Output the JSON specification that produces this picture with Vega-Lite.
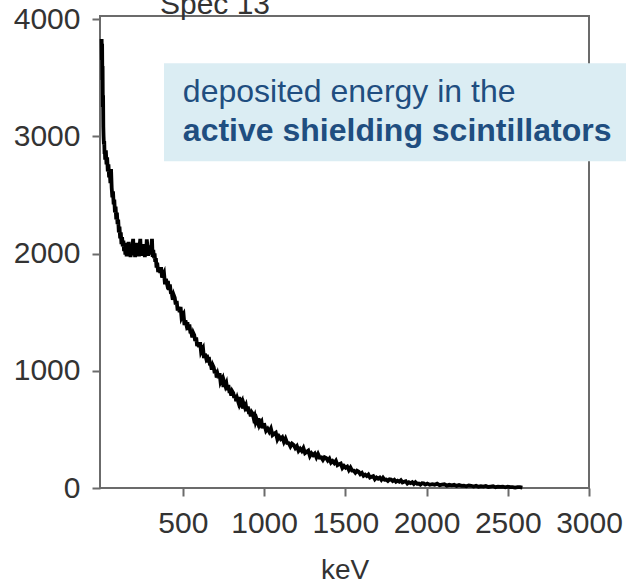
{
  "$schema": "https://vega.github.io/schema/vega-lite/v6.json",
  "width": 489,
  "height": 472,
  "autosize": {"type": "none"},
  "padding": {"left": 100, "top": 16, "right": 37, "bottom": 98},
  "background": "white",
  "config": {
    "font": "Liberation Sans",
    "view": {"stroke": "#6b6b6b", "strokeWidth": 2},
    "axis": {
      "domain": false,
      "grid": false,
      "ticks": true,
      "tickColor": "#6b6b6b",
      "tickWidth": 2,
      "tickSize": 8,
      "labelFont": "Liberation Sans",
      "labelFontSize": 30,
      "labelColor": "#333333",
      "labelFlush": false,
      "labelOverlap": false,
      "titleFont": "Liberation Sans",
      "titleFontSize": 28,
      "titleFontWeight": "normal",
      "titleColor": "#333333"
    }
  },
  "layer": [
    {
      "data": {
        "values": [
          {"e": 0, "c": 3830}, {"e": 1.5, "c": 3650}, {"e": 3, "c": 3790}, {"e": 4.5, "c": 3480},
          {"e": 6, "c": 3600}, {"e": 7.5, "c": 3250}, {"e": 9, "c": 3350}, {"e": 10.5, "c": 3080},
          {"e": 12, "c": 3000}, {"e": 14, "c": 2930}, {"e": 16, "c": 2960}, {"e": 18, "c": 2850},
          {"e": 20, "c": 2880}, {"e": 22, "c": 2800}, {"e": 26, "c": 2880}, {"e": 30, "c": 2760},
          {"e": 34, "c": 2820}, {"e": 38, "c": 2700}, {"e": 42, "c": 2760}, {"e": 46, "c": 2650},
          {"e": 50, "c": 2700}, {"e": 54, "c": 2600}, {"e": 58, "c": 2720}, {"e": 62, "c": 2560},
          {"e": 66, "c": 2480}, {"e": 70, "c": 2530}, {"e": 74, "c": 2420}, {"e": 78, "c": 2460},
          {"e": 82, "c": 2350}, {"e": 86, "c": 2400}, {"e": 90, "c": 2290}, {"e": 94, "c": 2350},
          {"e": 98, "c": 2250}, {"e": 102, "c": 2290}, {"e": 106, "c": 2180}, {"e": 110, "c": 2230},
          {"e": 114, "c": 2130}, {"e": 118, "c": 2180}, {"e": 122, "c": 2080}, {"e": 126, "c": 2140},
          {"e": 130, "c": 2060}, {"e": 134, "c": 2110}, {"e": 138, "c": 2020}, {"e": 142, "c": 2090},
          {"e": 146, "c": 1990}, {"e": 150, "c": 2070}, {"e": 154, "c": 1975}, {"e": 158, "c": 2050},
          {"e": 162, "c": 2000}, {"e": 166, "c": 2100}, {"e": 170, "c": 1980}, {"e": 174, "c": 2060},
          {"e": 178, "c": 1970}, {"e": 182, "c": 2040}, {"e": 186, "c": 2010}, {"e": 190, "c": 2080},
          {"e": 194, "c": 2125}, {"e": 198, "c": 1985}, {"e": 202, "c": 2060}, {"e": 206, "c": 1970},
          {"e": 210, "c": 2050}, {"e": 214, "c": 2000}, {"e": 218, "c": 2090}, {"e": 222, "c": 1990},
          {"e": 226, "c": 2060}, {"e": 230, "c": 1975}, {"e": 234, "c": 2070}, {"e": 238, "c": 2125},
          {"e": 242, "c": 1980}, {"e": 246, "c": 2060}, {"e": 250, "c": 1990}, {"e": 254, "c": 2080},
          {"e": 258, "c": 2010}, {"e": 262, "c": 2070}, {"e": 266, "c": 1970}, {"e": 270, "c": 2040},
          {"e": 274, "c": 2000}, {"e": 278, "c": 2120}, {"e": 282, "c": 2060}, {"e": 286, "c": 1980},
          {"e": 290, "c": 2070}, {"e": 294, "c": 2000}, {"e": 298, "c": 2060}, {"e": 302, "c": 1990},
          {"e": 306, "c": 2050}, {"e": 310, "c": 2125}, {"e": 314, "c": 1970}, {"e": 318, "c": 2030},
          {"e": 322, "c": 1960}, {"e": 326, "c": 2000}, {"e": 330, "c": 1930}, {"e": 334, "c": 1960},
          {"e": 338, "c": 1880}, {"e": 342, "c": 1922}, {"e": 348, "c": 1841}, {"e": 354, "c": 1876},
          {"e": 360, "c": 1835}, {"e": 366, "c": 1884}, {"e": 372, "c": 1794}, {"e": 378, "c": 1815},
          {"e": 384, "c": 1833}, {"e": 390, "c": 1738}, {"e": 396, "c": 1783}, {"e": 402, "c": 1745},
          {"e": 408, "c": 1766}, {"e": 414, "c": 1689}, {"e": 420, "c": 1737}, {"e": 426, "c": 1665},
          {"e": 432, "c": 1659}, {"e": 438, "c": 1605}, {"e": 444, "c": 1645}, {"e": 450, "c": 1623},
          {"e": 456, "c": 1565}, {"e": 462, "c": 1595}, {"e": 468, "c": 1513}, {"e": 474, "c": 1544},
          {"e": 480, "c": 1501}, {"e": 486, "c": 1544}, {"e": 492, "c": 1454}, {"e": 498, "c": 1471},
          {"e": 504, "c": 1484}, {"e": 510, "c": 1390}, {"e": 516, "c": 1429}, {"e": 522, "c": 1392},
          {"e": 528, "c": 1414}, {"e": 534, "c": 1348}, {"e": 540, "c": 1394}, {"e": 546, "c": 1332},
          {"e": 552, "c": 1330}, {"e": 558, "c": 1284}, {"e": 564, "c": 1322}, {"e": 570, "c": 1304},
          {"e": 576, "c": 1254}, {"e": 582, "c": 1284}, {"e": 588, "c": 1210}, {"e": 594, "c": 1240},
          {"e": 600, "c": 1202}, {"e": 606, "c": 1244}, {"e": 612, "c": 1162}, {"e": 618, "c": 1180},
          {"e": 624, "c": 1194}, {"e": 630, "c": 1108}, {"e": 636, "c": 1146}, {"e": 642, "c": 1113},
          {"e": 648, "c": 1136}, {"e": 654, "c": 1071}, {"e": 660, "c": 1118}, {"e": 666, "c": 1057},
          {"e": 672, "c": 1055}, {"e": 678, "c": 1009}, {"e": 684, "c": 1047}, {"e": 690, "c": 1029},
          {"e": 696, "c": 979}, {"e": 702, "c": 1008}, {"e": 708, "c": 943}, {"e": 714, "c": 971},
          {"e": 720, "c": 939}, {"e": 726, "c": 978}, {"e": 732, "c": 906}, {"e": 738, "c": 924},
          {"e": 744, "c": 938}, {"e": 750, "c": 862}, {"e": 756, "c": 898}, {"e": 762, "c": 870},
          {"e": 768, "c": 892}, {"e": 774, "c": 835}, {"e": 780, "c": 879}, {"e": 786, "c": 826},
          {"e": 792, "c": 827}, {"e": 798, "c": 788}, {"e": 804, "c": 825}, {"e": 810, "c": 811},
          {"e": 816, "c": 769}, {"e": 822, "c": 796}, {"e": 828, "c": 740}, {"e": 834, "c": 767},
          {"e": 840, "c": 740}, {"e": 846, "c": 777}, {"e": 852, "c": 715}, {"e": 858, "c": 731},
          {"e": 864, "c": 745}, {"e": 870, "c": 678}, {"e": 876, "c": 711}, {"e": 882, "c": 686},
          {"e": 888, "c": 705}, {"e": 894, "c": 655}, {"e": 900, "c": 694}, {"e": 906, "c": 646},
          {"e": 912, "c": 647}, {"e": 918, "c": 612}, {"e": 924, "c": 645}, {"e": 930, "c": 633},
          {"e": 936, "c": 595}, {"e": 942, "c": 615}, {"e": 948, "c": 565}, {"e": 954, "c": 588},
          {"e": 960, "c": 563}, {"e": 966, "c": 594}, {"e": 972, "c": 538}, {"e": 978, "c": 554},
          {"e": 984, "c": 566}, {"e": 990, "c": 509}, {"e": 996, "c": 538}, {"e": 1002, "c": 539},
          {"e": 1012, "c": 488}, {"e": 1022, "c": 506}, {"e": 1032, "c": 479}, {"e": 1042, "c": 507},
          {"e": 1052, "c": 451}, {"e": 1062, "c": 463}, {"e": 1072, "c": 472}, {"e": 1082, "c": 414},
          {"e": 1092, "c": 440}, {"e": 1102, "c": 419}, {"e": 1112, "c": 433}, {"e": 1122, "c": 393},
          {"e": 1132, "c": 422}, {"e": 1142, "c": 384}, {"e": 1152, "c": 382}, {"e": 1162, "c": 354},
          {"e": 1172, "c": 378}, {"e": 1182, "c": 367}, {"e": 1192, "c": 340}, {"e": 1202, "c": 357},
          {"e": 1212, "c": 317}, {"e": 1222, "c": 335}, {"e": 1232, "c": 316}, {"e": 1242, "c": 341},
          {"e": 1252, "c": 298}, {"e": 1262, "c": 308}, {"e": 1272, "c": 318}, {"e": 1282, "c": 272},
          {"e": 1292, "c": 296}, {"e": 1302, "c": 280}, {"e": 1312, "c": 294}, {"e": 1322, "c": 261},
          {"e": 1332, "c": 290}, {"e": 1342, "c": 259}, {"e": 1352, "c": 261}, {"e": 1362, "c": 240},
          {"e": 1372, "c": 263}, {"e": 1382, "c": 256}, {"e": 1392, "c": 234}, {"e": 1402, "c": 250},
          {"e": 1412, "c": 216}, {"e": 1422, "c": 230}, {"e": 1432, "c": 213}, {"e": 1442, "c": 232},
          {"e": 1452, "c": 195}, {"e": 1462, "c": 203}, {"e": 1472, "c": 209}, {"e": 1482, "c": 171},
          {"e": 1492, "c": 188}, {"e": 1502, "c": 173}, {"e": 1512, "c": 183}, {"e": 1522, "c": 153},
          {"e": 1532, "c": 175}, {"e": 1542, "c": 149}, {"e": 1552, "c": 149}, {"e": 1562, "c": 130},
          {"e": 1572, "c": 147}, {"e": 1582, "c": 139}, {"e": 1592, "c": 118}, {"e": 1602, "c": 129},
          {"e": 1612, "c": 104}, {"e": 1622, "c": 114}, {"e": 1632, "c": 102}, {"e": 1642, "c": 115},
          {"e": 1652, "c": 89}, {"e": 1662, "c": 95}, {"e": 1672, "c": 101}, {"e": 1682, "c": 74},
          {"e": 1692, "c": 89}, {"e": 1702, "c": 80}, {"e": 1712, "c": 89}, {"e": 1722, "c": 70},
          {"e": 1732, "c": 88}, {"e": 1742, "c": 70}, {"e": 1752, "c": 72}, {"e": 1762, "c": 60},
          {"e": 1772, "c": 74}, {"e": 1782, "c": 72}, {"e": 1792, "c": 59}, {"e": 1802, "c": 70},
          {"e": 1812, "c": 53}, {"e": 1822, "c": 62}, {"e": 1832, "c": 54}, {"e": 1842, "c": 66},
          {"e": 1852, "c": 47}, {"e": 1862, "c": 53}, {"e": 1872, "c": 58}, {"e": 1882, "c": 38},
          {"e": 1892, "c": 49}, {"e": 1902, "c": 42}, {"e": 1912, "c": 50}, {"e": 1922, "c": 35},
          {"e": 1932, "c": 49}, {"e": 1942, "c": 36}, {"e": 1952, "c": 38}, {"e": 1962, "c": 29},
          {"e": 1972, "c": 41}, {"e": 1982, "c": 39}, {"e": 1992, "c": 29}, {"e": 2005, "c": 38},
          {"e": 2020, "c": 27}, {"e": 2035, "c": 33}, {"e": 2050, "c": 28}, {"e": 2065, "c": 37},
          {"e": 2080, "c": 24}, {"e": 2095, "c": 29}, {"e": 2110, "c": 32}, {"e": 2125, "c": 20},
          {"e": 2140, "c": 27}, {"e": 2155, "c": 23}, {"e": 2170, "c": 27}, {"e": 2185, "c": 18},
          {"e": 2200, "c": 26}, {"e": 2215, "c": 18}, {"e": 2230, "c": 20}, {"e": 2245, "c": 15},
          {"e": 2260, "c": 21}, {"e": 2275, "c": 19}, {"e": 2290, "c": 13}, {"e": 2305, "c": 19},
          {"e": 2320, "c": 11}, {"e": 2335, "c": 15}, {"e": 2350, "c": 12}, {"e": 2365, "c": 17},
          {"e": 2380, "c": 9}, {"e": 2395, "c": 12}, {"e": 2410, "c": 15}, {"e": 2425, "c": 7},
          {"e": 2440, "c": 11}, {"e": 2455, "c": 9}, {"e": 2470, "c": 12}, {"e": 2485, "c": 6},
          {"e": 2500, "c": 11}, {"e": 2515, "c": 7}, {"e": 2530, "c": 7}, {"e": 2545, "c": 4},
          {"e": 2560, "c": 8}, {"e": 2575, "c": 7}, {"e": 2590, "c": 3}
        ]
      },
      "mark": {"type": "line", "color": "#000000", "strokeWidth": 3.8, "strokeJoin": "miter"},
      "encoding": {
        "x": {
          "field": "e",
          "type": "quantitative",
          "scale": {"domain": [-10, 3000], "nice": false, "zero": false},
          "axis": {
            "values": [500, 1000, 1500, 2000, 2500, 3000],
            "format": "d",
            "labelPadding": 12,
            "title": "keV",
            "titlePadding": 18
          }
        },
        "y": {
          "field": "c",
          "type": "quantitative",
          "scale": {"domain": [0, 4026], "nice": false},
          "axis": {
            "values": [0, 1000, 2000, 3000, 4000],
            "format": "d",
            "labelPadding": 12,
            "title": null
          }
        }
      }
    },
    {
      "data": {"values": [{"label": "Spec 13"}]},
      "mark": {
        "type": "text",
        "align": "left",
        "baseline": "alphabetic",
        "font": "Liberation Sans",
        "fontSize": 30,
        "color": "#333333",
        "clip": false
      },
      "encoding": {
        "x": {"datum": 359},
        "y": {"datum": 4045},
        "text": {"field": "label"}
      }
    },
    {
      "data": {"values": [{"box": "note"}]},
      "mark": {"type": "rect", "fill": "#dbedf3"},
      "encoding": {
        "x": {"datum": 384},
        "x2": {"datum": 3400},
        "y": {"datum": 3624},
        "y2": {"datum": 2787}
      }
    },
    {
      "data": {"values": [{"line": "deposited energy in the"}]},
      "mark": {
        "type": "text",
        "align": "left",
        "baseline": "alphabetic",
        "font": "Liberation Sans",
        "fontSize": 32,
        "color": "#1f4e80"
      },
      "encoding": {
        "x": {"datum": 500},
        "y": {"datum": 3291},
        "text": {"field": "line"}
      }
    },
    {
      "data": {"values": [{"line": "active shielding scintillators"}]},
      "mark": {
        "type": "text",
        "align": "left",
        "baseline": "alphabetic",
        "font": "Liberation Sans",
        "fontSize": 32,
        "fontWeight": "bold",
        "color": "#1f4e80"
      },
      "encoding": {
        "x": {"datum": 500},
        "y": {"datum": 2957},
        "text": {"field": "line"}
      }
    }
  ]
}
